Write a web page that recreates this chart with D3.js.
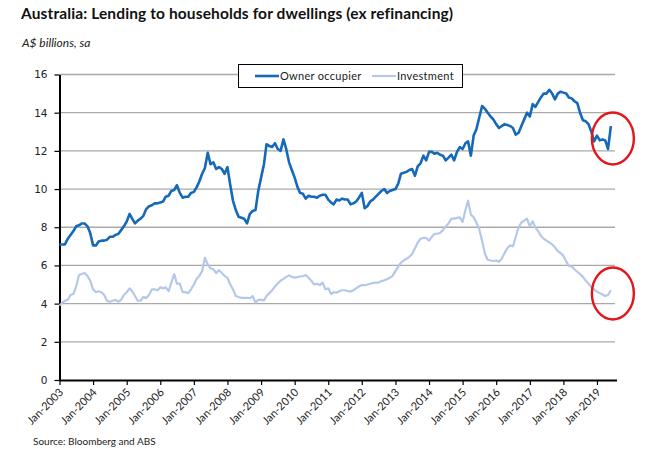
<!DOCTYPE html>
<html>
<head>
<meta charset="utf-8">
<script src="https://cdn.jsdelivr.net/npm/d3@7"></script>
<style>
  body { margin: 0; background: #fff; }
  svg { display: block; }
</style>
</head>
<body>
<svg id="chart" width="650" height="455"></svg>
<script>
// Australia: lending to households for dwellings, monthly, Jan-2003 .. Jun-2019 (A$ bn, sa)
const seriesNames = ["Owner occupier", "Investment"];
const firstMonth = new Date(2003, 0, 1);

const ownerOccupier = [
  7.1, 7.1, 7.1, 7.4, 7.6, 7.8, 8.05, 8.1, 8.2, 8.2, 8.05, 7.7,          // 2003
  7.05, 7.05, 7.25, 7.3, 7.3, 7.35, 7.5, 7.5, 7.6, 7.65, 7.85, 8.05,     // 2004
  8.3, 8.7, 8.45, 8.2, 8.35, 8.45, 8.6, 8.95, 9.1, 9.15, 9.25, 9.25,     // 2005
  9.3, 9.35, 9.6, 9.65, 9.9, 9.95, 10.2, 9.8, 9.55, 9.6, 9.6, 9.8,       // 2006
  9.85, 10.1, 10.4, 10.8, 11.1, 11.9, 11.3, 11.4, 11.05, 11.15, 11.05, 10.8, // 2007
  11.15, 10.2, 9.4, 8.9, 8.55, 8.5, 8.45, 8.2, 8.7, 8.85, 8.9, 9.9,      // 2008
  10.6, 11.3, 12.35, 12.25, 12.2, 12.4, 12.1, 12.0, 12.6, 12.1, 11.4, 11.0, // 2009
  10.6, 10.1, 9.8, 9.75, 9.5, 9.65, 9.6, 9.6, 9.55, 9.65, 9.7, 9.7,      // 2010
  9.45, 9.3, 9.2, 9.45, 9.4, 9.5, 9.45, 9.45, 9.2, 9.25, 9.35, 9.55,     // 2011
  9.8, 9.0, 9.1, 9.35, 9.45, 9.6, 9.75, 9.9, 10.0, 9.8, 9.9, 9.95,       // 2012
  10.0, 10.3, 10.8, 10.85, 10.9, 11.0, 11.05, 10.7, 11.2, 11.35, 11.75, 11.5, // 2013
  11.95, 11.95, 11.85, 11.9, 11.8, 11.75, 11.5, 11.65, 11.8, 11.5, 11.95, 12.2, // 2014
  12.1, 12.4, 12.5, 11.75, 12.8, 13.15, 13.75, 14.35, 14.2, 14.0, 13.8, 13.65, // 2015
  13.4, 13.2, 13.3, 13.4, 13.35, 13.3, 13.2, 12.85, 12.95, 13.3, 13.65, 14.0, // 2016
  13.8, 14.45, 14.3, 14.55, 14.8, 15.0, 15.0, 15.2, 15.0, 14.7, 15.0, 15.1,   // 2017
  15.05, 15.0, 14.8, 14.75, 14.6, 14.5, 14.0, 13.6, 13.55, 13.4, 13.0, 12.5,  // 2018
  12.8, 12.55, 12.6, 12.55, 12.1, 13.3                                        // 2019
];

const investment = [
  3.9, 4.05, 4.15, 4.2, 4.45, 4.5, 4.9, 5.5, 5.55, 5.6, 5.45, 5.2,       // 2003
  4.75, 4.6, 4.65, 4.6, 4.45, 4.15, 4.1, 4.15, 4.2, 4.1, 4.2, 4.45,      // 2004
  4.6, 4.8, 4.65, 4.4, 4.15, 4.15, 4.35, 4.3, 4.45, 4.75, 4.75, 4.7,     // 2005
  4.85, 4.8, 4.85, 4.65, 5.1, 5.55, 5.05, 5.05, 4.6, 4.6, 4.55, 4.75,    // 2006
  5.0, 5.3, 5.45, 5.7, 6.4, 6.05, 5.85, 5.8, 5.6, 5.75, 5.6, 5.45,       // 2007
  5.35, 5.0, 4.75, 4.4, 4.35, 4.3, 4.3, 4.3, 4.28, 4.4, 4.05, 4.2,       // 2008
  4.2, 4.17, 4.4, 4.55, 4.7, 4.9, 5.05, 5.2, 5.3, 5.4, 5.48, 5.4,        // 2009
  5.36, 5.39, 5.42, 5.44, 5.5, 5.35, 5.2, 5.0, 5.04, 4.97, 5.1, 4.75,    // 2010
  4.8, 4.5, 4.6, 4.57, 4.65, 4.7, 4.7, 4.66, 4.63, 4.7, 4.8, 4.9,        // 2011
  4.97, 4.97, 5.0, 5.04, 5.08, 5.1, 5.1, 5.18, 5.22, 5.28, 5.35, 5.45,   // 2012
  5.7, 5.95, 6.15, 6.26, 6.35, 6.45, 6.6, 6.9, 7.2, 7.4, 7.44, 7.44,     // 2013
  7.3, 7.5, 7.65, 7.67, 7.7, 7.85, 8.05, 8.2, 8.45, 8.45, 8.49, 8.52,    // 2014
  8.28, 8.9, 9.39, 8.66, 8.52, 8.23, 7.9, 7.3, 6.6, 6.3, 6.26, 6.23,     // 2015
  6.26, 6.19, 6.35, 6.65, 6.9, 7.05, 7.0, 7.5, 8.0, 8.25, 8.35, 8.45,    // 2016
  8.05, 8.31, 8.0, 7.8, 7.55, 7.4, 7.3, 7.2, 7.1, 6.95, 6.75, 6.65,      // 2017
  6.5, 6.2, 5.97, 5.95, 5.8, 5.67, 5.55, 5.4, 5.2, 5.05, 4.87, 4.75,     // 2018
  4.62, 4.55, 4.48, 4.4, 4.45, 4.7                                        // 2019
];

const yTicks = [0, 2, 4, 6, 8, 10, 12, 14, 16];
const xTickYears = d3.range(2003, 2020);

const titleText = "Australia: Lending to households for dwellings (ex refinancing)";
const subtitleText = "A$ billions, sa";
const sourceText = "Source: Bloomberg and ABS";

const colors = ["#1669b9", "#b4c8e9"];

const svg = d3.select("#chart");
const plotLeft = 59.5, plotRight = 615, plotTop = 74.5, plotBottom = 380;

const months = ownerOccupier.map((_, i) => d3.timeMonth.offset(firstMonth, i));
const x = d3.scaleTime()
  .domain([firstMonth, new Date(2019, 6, 16)])
  .range([plotLeft, plotRight]);
const y = d3.scaleLinear().domain([0, 16]).range([plotBottom, plotTop]);

// titles
svg.append("text")
  .attr("x", 21).attr("y", 19)
  .attr("font-family", "Lato, 'Open Sans', sans-serif")
  .attr("font-weight", "bold")
  .attr("font-size", 15.5)
  .attr("letter-spacing", 0.12)
  .attr("fill", "#111")
  .text(titleText);

svg.append("text")
  .attr("x", 22).attr("y", 46.5)
  .attr("font-family", "Lato, 'Open Sans', sans-serif")
  .attr("font-style", "italic")
  .attr("font-size", 12)
  .attr("fill", "#222")
  .text(subtitleText);

// gridlines
svg.append("g")
  .selectAll("line")
  .data(yTicks.filter(d => d > 0))
  .enter().append("line")
  .attr("x1", plotLeft).attr("x2", plotRight)
  .attr("y1", d => y(d)).attr("y2", d => y(d))
  .attr("stroke", "#a9a9a9")
  .attr("stroke-width", 1.3);

// y axis
const yAxis = svg.append("g")
  .attr("transform", `translate(${plotLeft},0)`)
  .call(d3.axisLeft(y).tickValues(yTicks).tickSize(5).tickSizeOuter(0).tickPadding(7));
yAxis.select(".domain").attr("stroke", "#000").attr("stroke-width", 2);
yAxis.selectAll(".tick line").attr("stroke", "#000").attr("stroke-width", 1.2);
yAxis.selectAll(".tick text")
  .attr("font-family", "'DejaVu Sans', Verdana, sans-serif")
  .attr("font-size", 10.5)
  .attr("fill", "#222");

// x axis
const xAxis = svg.append("g")
  .attr("transform", `translate(0,${plotBottom})`)
  .call(d3.axisBottom(x)
    .tickValues(xTickYears.map(yr => new Date(yr, 0, 1)))
    .tickFormat(d3.timeFormat("%b-%Y"))
    .tickSize(5).tickSizeOuter(0));
xAxis.select(".domain").attr("stroke", "#000").attr("stroke-width", 2)
  .attr("d", `M${plotLeft},0.5H${plotRight + 2}`);
xAxis.selectAll(".tick line").attr("stroke", "#000").attr("stroke-width", 1.2);
xAxis.selectAll(".tick text")
  .attr("font-family", "Lato, 'Open Sans', sans-serif")
  .attr("font-size", 11)
  .attr("fill", "#222")
  .attr("text-anchor", "end")
  .attr("dx", null).attr("dy", null)
  .attr("y", null)
  .attr("transform", "translate(4,13) rotate(-45)");

// lines
const line = d3.line()
  .x((d, i) => x(months[i]))
  .y(d => y(d));

svg.append("path")
  .datum(investment)
  .attr("fill", "none")
  .attr("stroke", colors[1])
  .attr("stroke-width", 2.2)
  .attr("stroke-linejoin", "round")
  .attr("d", line);

svg.append("path")
  .datum(ownerOccupier)
  .attr("fill", "none")
  .attr("stroke", colors[0])
  .attr("stroke-width", 2.6)
  .attr("stroke-linejoin", "round")
  .attr("d", line);

// red rings round the latest six months of each series
[ownerOccupier, investment].forEach(series => {
  const recent = series.slice(-6);
  svg.append("ellipse")
    .attr("cx", x(months[months.length - 1]) + 2)
    .attr("cy", y(d3.mean(recent)))
    .attr("rx", 21)
    .attr("ry", 26)
    .attr("fill", "none")
    .attr("stroke", "#e3161b")
    .attr("stroke-width", 2.4);
});

// legend
const legend = svg.append("g").attr("transform", "translate(238,64)");
legend.append("rect")
  .attr("x", 0.5).attr("y", 0.5)
  .attr("width", 224).attr("height", 23)
  .attr("fill", "#fff")
  .attr("stroke", "#000")
  .attr("stroke-width", 1);
const legendX = [17, 134];
seriesNames.forEach((name, i) => {
  legend.append("line")
    .attr("x1", legendX[i]).attr("x2", legendX[i] + 24)
    .attr("y1", 12).attr("y2", 12)
    .attr("stroke", colors[i])
    .attr("stroke-width", i === 0 ? 2.6 : 2.2);
  legend.append("text")
    .attr("x", legendX[i] + 25).attr("y", 16)
    .attr("font-family", "Lato, 'Open Sans', sans-serif")
    .attr("font-size", 11)
    .attr("letter-spacing", 0.3)
    .attr("fill", "#222")
    .text(name);
});

// source
svg.append("text")
  .attr("x", 33).attr("y", 445)
  .attr("font-family", "Lato, 'Open Sans', sans-serif")
  .attr("font-size", 10)
  .attr("fill", "#222")
  .text(sourceText);
</script>
</body>
</html>
